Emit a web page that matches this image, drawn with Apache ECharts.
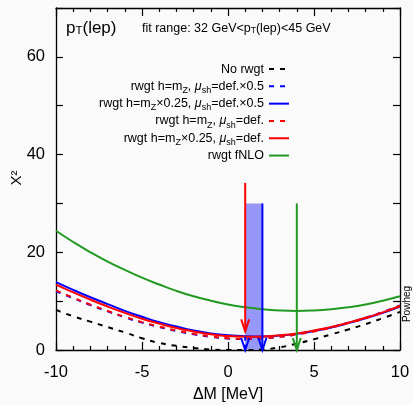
<!DOCTYPE html>
<html>
<head>
<meta charset="utf-8">
<script src="https://cdn.jsdelivr.net/npm/echarts@6/dist/echarts.min.js"></script>
<style>
  html, body { margin: 0; padding: 0; background: #fafafa; }
  #chart { width: 413px; height: 405px; }
</style>
</head>
<body>
<div id="chart"></div>
<script>
// Mass shift scan (MeV)
const deltaM = [-10, -9, -8, -7, -6, -5, -4, -3, -2, -1, 0, 1, 2, 3, 4, 5, 6, 7, 8, 9, 10];

// chi2 values for each reweighting variant
const noRwgt        = [8.2, 6.9, 5.8, 4.7, 3.6, 2.4, 1.45, 0.85, 0.4, 0.1, 0.0, 0.0, 0.1, 0.55, 1.3, 2.2, 3.2, 4.2, 5.3, 6.5, 7.8];
const rwgtMzHalf    = [12.0, 10.6, 9.2, 7.9, 6.7, 5.6, 4.7, 3.9, 3.2, 2.7, 2.35, 2.25, 2.35, 2.7, 3.2, 3.9, 4.7, 5.6, 6.6, 7.8, 9.1];
const rwgtQMzHalf   = [13.9, 12.3, 10.8, 9.4, 8.0, 6.8, 5.7, 4.8, 4.0, 3.4, 3.0, 2.8, 2.75, 2.95, 3.3, 3.9, 4.6, 5.5, 6.5, 7.6, 8.9];
const rwgtMzDef     = [12.2, 10.7, 9.3, 8.0, 6.8, 5.7, 4.8, 4.0, 3.3, 2.8, 2.4, 2.3, 2.4, 2.7, 3.2, 3.8, 4.6, 5.5, 6.5, 7.7, 9.0];
const rwgtQMzDef    = [13.4, 11.8, 10.3, 8.9, 7.6, 6.4, 5.4, 4.5, 3.8, 3.2, 2.85, 2.7, 2.75, 3.0, 3.4, 4.0, 4.7, 5.6, 6.6, 7.7, 9.0];
const rwgtFNLO      = [24.4, 22.1, 20.0, 18.1, 16.4, 14.8, 13.4, 12.1, 11.0, 10.1, 9.3, 8.75, 8.35, 8.1, 8.0, 8.1, 8.35, 8.75, 9.3, 10.1, 11.0];

// Series names (plain) and their rich-text legend labels
const seriesNames = [
  'No rwgt',
  'rwgt h=mZ, μsh=def.×0.5',
  'rwgt h=mZ×0.25, μsh=def.×0.5',
  'rwgt h=mZ, μsh=def.',
  'rwgt h=mZ×0.25, μsh=def.',
  'rwgt fNLO'
];
const legendLabels = [
  'No rwgt',
  'rwgt h=m{sub|Z}, {mu|μ}{sub|sh}=def.×0.5',
  'rwgt h=m{sub|Z}×0.25, {mu|μ}{sub|sh}=def.×0.5',
  'rwgt h=m{sub|Z}, {mu|μ}{sub|sh}=def.',
  'rwgt h=m{sub|Z}×0.25, {mu|μ}{sub|sh}=def.',
  'rwgt fNLO'
];

// Best-fit markers: x position, top of arrow, arrow tip
const arrowX    = [1.0, 1.0, 2.0, 4.0];
const arrowTop  = [34.2, 2.7, 30, 30];
const arrowTip  = [3.8, 0, 0, 0];
const arrowCol  = ['#ff0000', '#0000ff', '#0000ff', '#229922'];
const arrowDash = [false, true, false, false];

// Uncertainty band on the shift
const bandRange = [1.0, 2.0];
const bandTop = 30;

const FONT = 'Liberation Sans, Arial, Helvetica, sans-serif';
const chart = echarts.init(document.getElementById('chart'));

function lineSeries(name, values, color, dashed, z) {
  return {
    name: name,
    type: 'line',
    data: deltaM.map((x, i) => [x, values[i]]),
    smooth: true,
    symbol: 'none',
    showSymbol: false,
    z: z,
    lineStyle: { color: color, width: 2, type: dashed ? [5, 6] : 'solid' },
    itemStyle: { color: color },
    emphasis: { disabled: true },
    animation: false
  };
}

const richStyles = {
  sub: { fontSize: 9, fontFamily: FONT, verticalAlign: 'bottom', lineHeight: 9, color: '#000' },
  mu: { fontStyle: 'italic', fontSize: 12.5, fontFamily: FONT, color: '#000' }
};

const option = {
  backgroundColor: '#fafafa',
  animation: false,
  textStyle: { fontFamily: FONT },
  grid: { left: 56, right: 13, top: 8, bottom: 55, containLabel: false },
  xAxis: [
    {
      type: 'value', min: -10, max: 10, interval: 5,
      axisLine: { show: true, onZero: false, lineStyle: { color: '#000', width: 1.3 } },
      axisTick: { inside: true, length: 8, lineStyle: { color: '#000', width: 1.2 } },
      minorTick: { show: true, splitNumber: 5, length: 4, lineStyle: { color: '#000', width: 1.2 } },
      axisLabel: { fontSize: 16.5, color: '#000', margin: 14, fontFamily: FONT },
      splitLine: { show: false }
    },
    {
      type: 'value', min: -10, max: 10, interval: 5, position: 'top',
      axisLine: { show: true, onZero: false, lineStyle: { color: '#000', width: 1.3 } },
      axisTick: { inside: true, length: 8, lineStyle: { color: '#000', width: 1.2 } },
      minorTick: { show: true, splitNumber: 5, length: 4, lineStyle: { color: '#000', width: 1.2 } },
      axisLabel: { show: false },
      splitLine: { show: false }
    }
  ],
  yAxis: [
    {
      type: 'value', min: 0, max: 70, interval: 10,
      axisLine: { show: true, onZero: false, lineStyle: { color: '#000', width: 1.3 } },
      axisTick: { inside: true, length: 7, lineStyle: { color: '#000', width: 1.2 } },
      axisLabel: {
        fontSize: 16.5, color: '#000', margin: 11, fontFamily: FONT,
        formatter: v => (v % 20 === 0 ? String(v) : '')
      },
      splitLine: { show: false }
    },
    {
      type: 'value', min: 0, max: 70, interval: 10, position: 'right',
      axisLine: { show: true, onZero: false, lineStyle: { color: '#000', width: 1.3 } },
      axisTick: { inside: true, length: 7, lineStyle: { color: '#000', width: 1.2 } },
      axisLabel: { show: false },
      splitLine: { show: false }
    }
  ],
  legend: {
    orient: 'vertical',
    align: 'right',
    right: 123,
    top: 60.4,
    padding: 0,
    itemWidth: 20,
    itemHeight: 10,
    itemGap: 0,
    selectedMode: false,
    data: seriesNames,
    itemStyle: { opacity: 0 },
    formatter: name => legendLabels[seriesNames.indexOf(name)],
    textStyle: {
      fontSize: 12.5, color: '#000', fontFamily: FONT, lineHeight: 17.3,
      rich: richStyles
    }
  },
  graphic: [
    {
      type: 'text', left: 66, top: 20,
      style: {
        text: 'p{s|T}(lep)', font: '17px ' + FONT, fill: '#000',
        rich: { s: { fontSize: 11.5, fontFamily: FONT, verticalAlign: 'bottom', lineHeight: 11 } }
      }
    },
    {
      type: 'text', left: 142, top: 22,
      style: {
        text: 'fit range: 32 GeV<p{s|T}(lep)<45 GeV', font: '12.5px ' + FONT, fill: '#000',
        rich: { s: { fontSize: 8.5, fontFamily: FONT, verticalAlign: 'bottom', lineHeight: 8 } }
      }
    },
    {
      type: 'text', x: 228, y: 395,
      style: { text: 'ΔM [MeV]', font: '16px ' + FONT, fill: '#000', align: 'center', verticalAlign: 'middle' }
    },
    {
      type: 'text', x: 17, y: 178, rotation: Math.PI / 2,
      style: { text: 'X²', font: '15px ' + FONT, fill: '#000', align: 'center', verticalAlign: 'middle' }
    },
    {
      type: 'text', x: 407, y: 304, rotation: Math.PI / 2,
      style: { text: 'Powheg', font: '10px ' + FONT, fill: '#000', align: 'center', verticalAlign: 'middle' }
    }
  ],
  series: [
    {
      type: 'custom',
      name: 'band',
      z: 1,
      silent: true,
      data: [[bandRange[0], bandRange[1], bandTop]],
      renderItem: (params, api) => {
        const p0 = api.coord([api.value(0), api.value(2)]);
        const p1 = api.coord([api.value(1), 0]);
        return {
          type: 'rect',
          shape: { x: p0[0], y: p0[1], width: p1[0] - p0[0], height: p1[1] - p0[1] },
          style: { fill: '#9797f8' }
        };
      }
    },
    lineSeries(seriesNames[0], noRwgt, '#000000', true, 2),
    lineSeries(seriesNames[1], rwgtMzHalf, '#0000ff', true, 2),
    lineSeries(seriesNames[2], rwgtQMzHalf, '#0000ff', false, 2),
    lineSeries(seriesNames[3], rwgtMzDef, '#ff0000', true, 2),
    lineSeries(seriesNames[4], rwgtQMzDef, '#ff0000', false, 2),
    lineSeries(seriesNames[5], rwgtFNLO, '#229922', false, 2),
    {
      type: 'custom',
      name: 'arrows',
      z: 5,
      silent: true,
      clip: false,
      data: arrowX.map((x, i) => [x, arrowTop[i], arrowTip[i], i]),
      renderItem: (params, api) => {
        const i = api.value(3);
        const a = api.coord([api.value(0), api.value(1)]);
        const b = api.coord([api.value(0), api.value(2)]);
        const style = {
          stroke: arrowCol[i], lineWidth: 2, fill: null,
          lineDash: arrowDash[i] ? [4, 4] : null
        };
        return {
          type: 'group',
          children: [
            { type: 'line', shape: { x1: a[0], y1: a[1], x2: b[0], y2: b[1] }, style: style },
            {
              type: 'polyline',
              shape: { points: [[b[0] - 4, b[1] - 12], [b[0], b[1]], [b[0] + 4, b[1] - 12]] },
              style: Object.assign({}, style, { lineDash: null })
            }
          ]
        };
      }
    }
  ]
};

chart.setOption(option);
</script>
</body>
</html>
